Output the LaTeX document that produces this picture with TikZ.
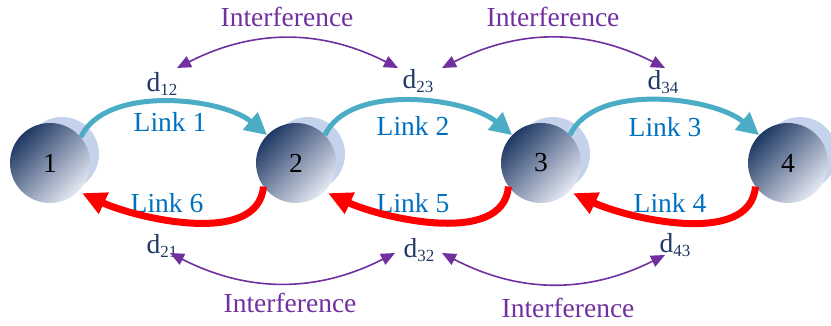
\documentclass[tikz,border=0pt]{standalone}
\usepackage{fontspec}
\setmainfont{Liberation Serif}
\usepackage{tikz}
\usetikzlibrary{arrows.meta}
\usetikzlibrary{positioning}
\definecolor{sph-dark}{RGB}{31,56,100}
\definecolor{sph-mid}{RGB}{92,118,164}
\definecolor{sph-light}{RGB}{228,232,242}
\definecolor{halo-blue}{RGB}{196,210,236}
\definecolor{link-cyan}{RGB}{75,172,198}
\definecolor{link-red}{RGB}{255,0,0}
\definecolor{link-blue}{RGB}{0,112,192}
\definecolor{dist-navy}{RGB}{31,56,100}
\definecolor{intf-purple}{RGB}{112,48,160}
% distance label with a small lowered index
\newcommand{\dlbl}[1]{d\raisebox{-0.3ex}{\fontsize{17}{17}\selectfont #1}}

\begin{document}
\begin{tikzpicture}
  [
    x = 1pt, y = -1pt,
    every node/.style = {font=\fontsize{27.5}{30}\selectfont, inner sep=2pt},
    sphere/.style = {circle, minimum size=80pt, inner sep=0pt,
                     top color=sph-dark, middle color=sph-mid,
                     bottom color=sph-light, shading angle=45},
    halo/.style   = {circle, minimum size=74pt, inner sep=0pt, fill=halo-blue},
    fwd/.style    = {link-cyan, line width=5pt,
                     -{Triangle[length=22pt, width=22pt]}},
    bwd/.style    = {link-red, line width=7pt,
                     -{Triangle[length=24pt, width=22pt]}},
    intf/.style   = {intf-purple, line width=1.6pt,
                     {Triangle[length=14pt, width=12pt]}-{Triangle[length=14pt, width=12pt]}},
    linklabel/.style = {text=link-blue},
    dist/.style      = {text=dist-navy},
    intflabel/.style = {text=intf-purple}
  ]
\useasboundingbox (0,0) rectangle (831,326);

% ---------------------------------------------------
% Nodes 1 - 4
\foreach \i/\x in {1/50, 2/296, 3/541, 4/788} {
  \node[halo]   (h\i) at (\x+12, 154) {};
  \node[sphere] (n\i) at (\x, 163)    {\i};
}

% Link labels
\node[linklabel] (l1) at (170, 122) {Link 1};
\node[linklabel] (l2) at (413, 126) {Link 2};
\node[linklabel] (l3) at (665, 127) {Link 3};
\node[linklabel] (l6) at (167, 203) {Link 6};
\node[linklabel] (l5) at (413, 203) {Link 5};
\node[linklabel] (l4) at (670, 203) {Link 4};

% Distances
\node[dist] (d12) at (162,  84) {\dlbl{12}};
\node[dist] (d23) at (418,  81) {\dlbl{23}};
\node[dist] (d34) at (663,  82) {\dlbl{34}};
\node[dist] (d21) at (162, 246) {\dlbl{21}};
\node[dist] (d32) at (419, 250) {\dlbl{32}};
\node[dist] (d43) at (675, 245) {\dlbl{43}};

% Interference labels
\node[intflabel] (i1) at (287,  17) {Interference};
\node[intflabel] (i2) at (553,  17) {Interference};
\node[intflabel] (i3) at (290, 303) {Interference};
\node[intflabel] (i4) at (568, 308) {Interference};

% ---------------------------------------------------
% Forward links (upper arcs)
\draw[fwd] (n1.40) to[out=65, in=140, looseness=0.8] (n2.136);
\draw[fwd] (n2.44) to[out=65, in=140, looseness=0.8] (n3.136);
\draw[fwd] (n3.44) to[out=65, in=140, looseness=0.8] (n4.136);

% Backward links (lower arcs)
\draw[bwd, shorten >=4pt] (n2.216) to[out=-95, in=-25, looseness=0.85] (n1.-45);
\draw[bwd, shorten >=4pt] (n3.216) to[out=-95, in=-25, looseness=0.85] (n2.-45);
\draw[bwd, shorten >=4pt] (n4.216) to[out=-95, in=-25, looseness=0.85] (n3.-45);

% ---------------------------------------------------
% Interference between neighbouring links
\draw[intf] ([shift={(15,-16)}]d12.center) to[bend left=27]  ([shift={(-20,-13)}]d23.center);
\draw[intf] ([shift={(24,-13)}]d23.center) to[bend left=27]  ([shift={(2,-14)}]d34.center);
\draw[intf] ([shift={(8,7)}]d21.center)    to[bend right=27] ([shift={(-24,3)}]d32.center);
\draw[intf] ([shift={(23,3)}]d32.center)   to[bend right=27] ([shift={(-10,10)}]d43.center);
\end{tikzpicture}
\end{document}
